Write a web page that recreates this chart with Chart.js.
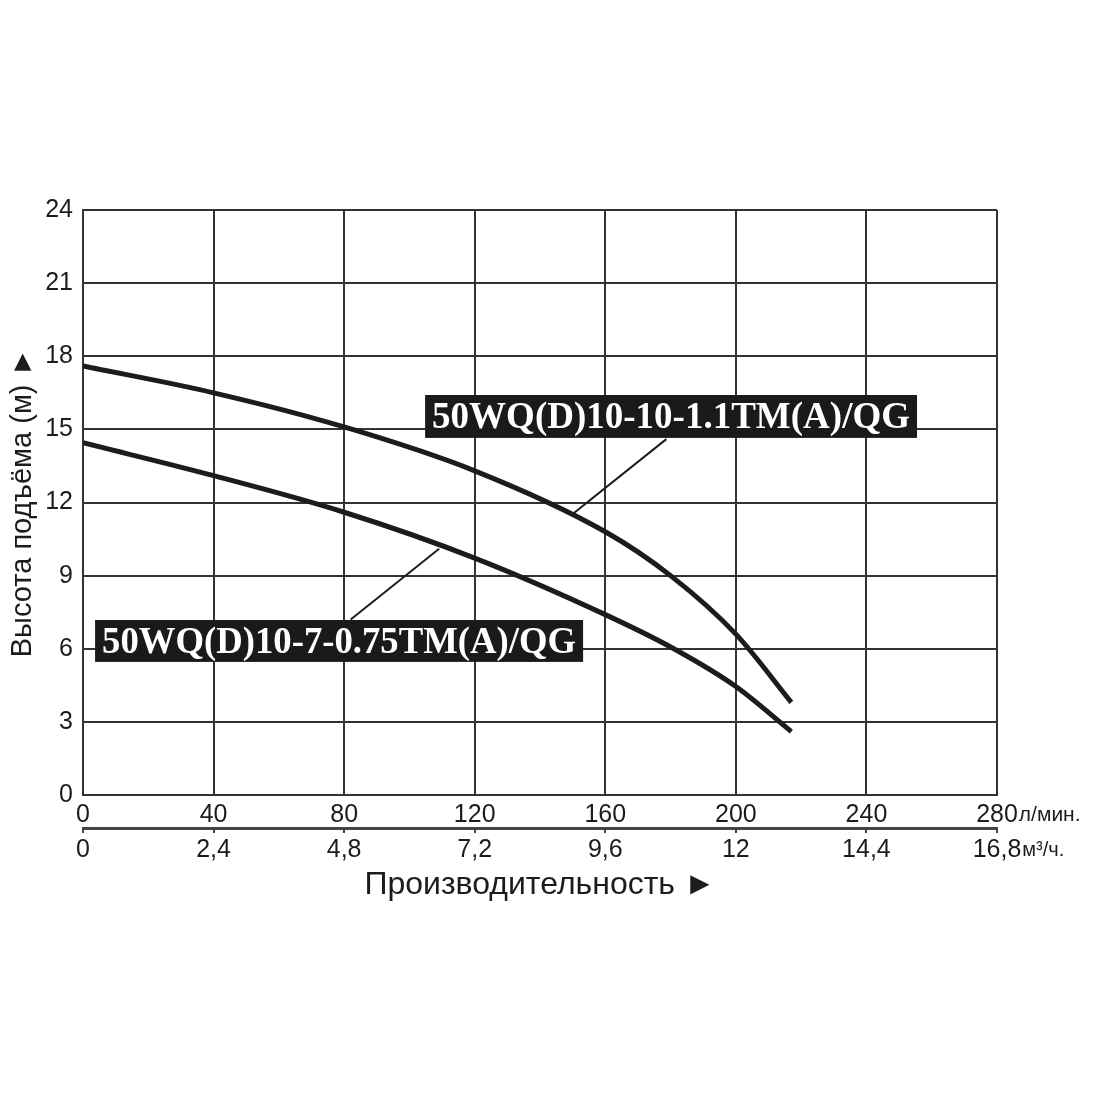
<!DOCTYPE html>
<html>
<head>
<meta charset="utf-8">
<script src="https://cdn.jsdelivr.net/npm/chart.js@4/dist/chart.umd.min.js"></script>
<style>
  body { margin: 0; background: #fff; }
  canvas { display: block; }
</style>
</head>
<body>
<canvas id="grafica" width="1100" height="1100"></canvas>
<script>
// flow in l/min, head in m
const flowTicksM3 = [0, 2.4, 4.8, 7.2, 9.6, 12, 14.4, 16.8];

const pump11Flow = [0, 40, 80, 120, 160, 180, 200, 217];
const pump11Head = [17.6, 16.5, 15.1, 13.3, 10.8, 9, 6.6, 3.8];

const pump075Flow = [0, 40, 80, 120, 160, 181, 200, 217];
const pump075Head = [14.45, 13.1, 11.6, 9.72, 7.4, 6, 4.45, 2.6];

const pump11Name = '50WQ(D)10-10-1.1TM(A)/QG';
const pump075Name = '50WQ(D)10-7-0.75TM(A)/QG';

// leader lines: label -> curve
const leader11 = [{x: 178.7, y: 14.6}, {x: 150.3, y: 11.56}];
const leader075 = [{x: 82, y: 7.2}, {x: 109.1, y: 10.1}];

const ink = '#1c1c1c';
const narrow = "'Liberation Sans Narrow', 'Arial Narrow', 'Liberation Sans', sans-serif";
const regular = "'Liberation Sans', Arial, sans-serif";

function toPoints(xs, ys) {
  return xs.map((x, i) => ({x: x, y: ys[i]}));
}

// label boxes in data units (x1, x2 in l/min; y1, y2 in m)
const labelBoxes = [
  {text: pump11Name, x1: 104.8, x2: 255.5, y1: 16.41, y2: 14.65},
  {text: pump075Name, x1: 3.7, x2: 153.2, y1: 7.18, y2: 5.46}
];

const labelPlugin = {
  id: 'labels',
  afterDatasetsDraw(chart) {
    const ctx = chart.ctx;
    const xs = chart.scales.x, ys = chart.scales.y;
    labelBoxes.forEach(b => {
      const l = xs.getPixelForValue(b.x1), r = xs.getPixelForValue(b.x2);
      const t = ys.getPixelForValue(b.y1), bt = ys.getPixelForValue(b.y2);
      ctx.save();
      ctx.fillStyle = '#1a1a1a';
      ctx.fillRect(l, t, r - l, bt - t);
      ctx.font = "bold 38px 'Liberation Serif', 'Times New Roman', serif";
      ctx.fillStyle = '#fff';
      ctx.textBaseline = 'middle';
      const w = ctx.measureText(b.text).width;
      const k = ((r - l) - 14) / w;
      ctx.translate(l + 7, (t + bt) / 2 + 2);
      ctx.scale(k, 1);
      ctx.fillText(b.text, 0, 0);
      ctx.restore();
    });
  },
  afterDraw(chart) {
    const ctx = chart.ctx;
    const xs = chart.scales.x, x2 = chart.scales.x2;
    ctx.save();
    ctx.fillStyle = ink;
    ctx.textBaseline = 'middle';
    ctx.textAlign = 'left';
    ctx.font = '25px ' + narrow;
    let w = ctx.measureText('280').width;
    ctx.font = '21px ' + narrow;
    ctx.fillText('л/мин.', xs.getPixelForValue(280) + w / 2 + 1, xs.top + 20);
    ctx.font = '25px ' + narrow;
    w = ctx.measureText('16,8').width;
    ctx.font = '20px ' + narrow;
    ctx.fillText('м³/ч.', x2.getPixelForValue(16.8) + w / 2 + 1, x2.top + 22);
    ctx.restore();
  }
};

const canvas = document.getElementById('grafica');
const grafica = canvas.getContext('2d');

new Chart(grafica, {
  type: 'line',
  data: {
    datasets: [
      {
        label: pump11Name,
        data: toPoints(pump11Flow, pump11Head),
        borderColor: ink,
        borderWidth: 5,
        pointRadius: 0,
        cubicInterpolationMode: 'monotone'
      },
      {
        label: pump075Name,
        data: toPoints(pump075Flow, pump075Head),
        borderColor: ink,
        borderWidth: 5,
        pointRadius: 0,
        cubicInterpolationMode: 'monotone'
      },
      {
        label: 'leader1',
        data: leader11,
        borderColor: ink,
        borderWidth: 2,
        pointRadius: 0
      },
      {
        label: 'leader2',
        data: leader075,
        borderColor: ink,
        borderWidth: 2,
        pointRadius: 0
      }
    ]
  },
  options: {
    responsive: false,
    animation: false,
    devicePixelRatio: 1,
    layout: {
      padding: {left: 0, right: 103, top: 210, bottom: 200}
    },
    plugins: {
      legend: {display: false},
      tooltip: {enabled: false}
    },
    scales: {
      x: {
        type: 'linear',
        position: 'bottom',
        weight: 1,
        min: 0,
        max: 280,
        ticks: {
          stepSize: 40,
          color: ink,
          font: {family: narrow, size: 25},
          padding: 5,
          maxRotation: 0
        },
        grid: {color: '#333', lineWidth: 2, drawTicks: false},
        border: {color: '#333', width: 2},
        afterFit(scale) { scale.height = 33; }
      },
      x2: {
        type: 'linear',
        position: 'bottom',
        weight: 2,
        min: 0,
        max: 16.8,
        afterBuildTicks(scale) {
          scale.ticks = flowTicksM3.map(v => ({value: v}));
        },
        ticks: {
          color: ink,
          font: {family: narrow, size: 25},
          padding: 2,
          maxRotation: 0,
          callback: v => String(v).replace('.', ',')
        },
        grid: {drawOnChartArea: false, drawTicks: true, tickLength: 5, color: '#444', lineWidth: 2},
        border: {color: '#444', width: 3},
        title: {
          display: true,
          text: 'Производительность ►',
          color: ink,
          font: {family: regular, size: 32},
          padding: {top: 0, bottom: -4}
        },
        afterFit(scale) { scale.height = 72; }
      },
      y: {
        min: 0,
        max: 24,
        ticks: {
          stepSize: 3,
          color: ink,
          font: {family: regular, size: 25},
          padding: 10
        },
        grid: {color: '#333', lineWidth: 2, drawTicks: false},
        border: {color: '#333', width: 2},
        title: {
          display: true,
          text: 'Высота подъёма (м) ►',
          color: ink,
          font: {family: regular, size: 29},
          padding: {top: 6, bottom: 0}
        },
        afterFit(scale) { scale.width = 83; }
      }
    }
  },
  plugins: [labelPlugin]
});
</script>
</body>
</html>
